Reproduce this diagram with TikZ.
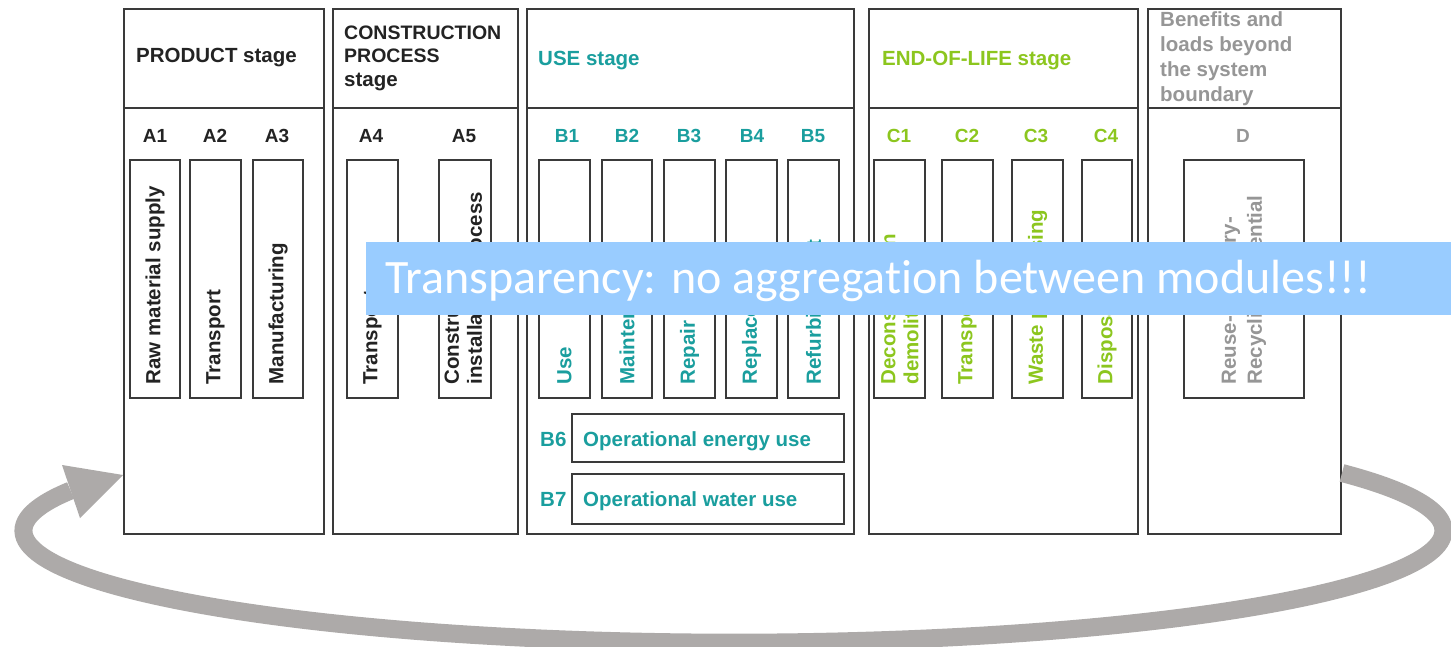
\documentclass[tikz,border=0pt]{standalone}
\usepackage{fontspec}
\setmainfont{Liberation Sans}
\newfontfamily\banfont[Ligatures={NoCommon}]{Carlito}
\definecolor{framec}{RGB}{58,58,58}
\definecolor{txtA}{RGB}{35,35,35}
\definecolor{txtB}{RGB}{26,158,158}
\definecolor{txtC}{RGB}{140,198,30}
\definecolor{txtD}{RGB}{150,150,150}
\definecolor{bannerc}{RGB}{153,204,255}
\definecolor{loopc}{RGB}{173,170,169}
\newcommand\labfont{\bfseries\fontsize{20.5}{23}\selectfont}
\newcommand\codefont{\bfseries\fontsize{19}{21}\selectfont}
\tikzset{
  stagebox/.style={draw=framec, line width=1.8pt, inner sep=0pt, anchor=north west},
  modbox/.style={draw=framec, line width=1.6pt, inner sep=0pt, minimum height=238pt, minimum width=51pt, anchor=north},
  vtext/.style={rotate=90, anchor=west, inner sep=0pt, align=left, font=\labfont},
  hd/.style={anchor=base west, inner sep=0pt, font=\labfont},
  modcode/.style={anchor=base, inner sep=0pt, font=\codefont},
  loopline/.style={draw=loopc, line width=18pt},
}
\begin{document}
\begin{tikzpicture}[x=1pt,y=-1pt]
\useasboundingbox (0,0) rectangle (1451,647);
\fill[white] (0,0) rectangle (1451,647);
% stage frames
\node[stagebox, minimum width=200pt, minimum height=99pt] (prodH) at (123,8) {};
\node[stagebox, minimum width=200pt, minimum height=426pt] (prodB) at (123,107) {};
\node[stagebox, minimum width=185pt, minimum height=99pt] (consH) at (332,8) {};
\node[stagebox, minimum width=185pt, minimum height=426pt] (consB) at (332,107) {};
\node[stagebox, minimum width=327pt, minimum height=99pt] (useH) at (526,8) {};
\node[stagebox, minimum width=327pt, minimum height=426pt] (useB) at (526,107) {};
\node[stagebox, minimum width=269pt, minimum height=99pt] (eolH) at (868,8) {};
\node[stagebox, minimum width=269pt, minimum height=426pt] (eolB) at (868,107) {};
\node[stagebox, minimum width=193pt, minimum height=99pt] (benH) at (1147,8) {};
\node[stagebox, minimum width=193pt, minimum height=426pt] (benB) at (1147,107) {};
% headers
\node[hd, text=txtA] (h1) at (136,63) {PRODUCT stage};
\node[hd, text=txtA, font=\bfseries\fontsize{19.5}{23}\selectfont] (h2a) at (344,40) {CONSTRUCTION};
\node[hd, text=txtA, font=\bfseries\fontsize{19.5}{23}\selectfont] (h2b) at (344,63) {PROCESS};
\node[hd, text=txtA] (h2c) at (344,87) {stage};
\node[hd, text=txtB] (h3) at (538,66) {USE stage};
\node[hd, text=txtC] (h4) at (882,66) {END-OF-LIFE stage};
\node[hd, text=txtD] (h5a) at (1160,27) {Benefits and};
\node[hd, text=txtD] (h5b) at (1160,52) {loads beyond};
\node[hd, text=txtD] (h5c) at (1160,77) {the system};
\node[hd, text=txtD] (h5d) at (1160,102) {boundary};
% module codes
\node[modcode, text=txtA] (cA1) at (155,143) {A1};
\node[modcode, text=txtA] (cA2) at (215,143) {A2};
\node[modcode, text=txtA] (cA3) at (277,143) {A3};
\node[modcode, text=txtA] (cA4) at (371,143) {A4};
\node[modcode, text=txtA] (cA5) at (464,143) {A5};
\node[modcode, text=txtB] (cB1) at (567,143) {B1};
\node[modcode, text=txtB] (cB2) at (627,143) {B2};
\node[modcode, text=txtB] (cB3) at (689,143) {B3};
\node[modcode, text=txtB] (cB4) at (752,143) {B4};
\node[modcode, text=txtB] (cB5) at (813,143) {B5};
\node[modcode, text=txtC] (cC1) at (899,143) {C1};
\node[modcode, text=txtC] (cC2) at (967,143) {C2};
\node[modcode, text=txtC] (cC3) at (1036,143) {C3};
\node[modcode, text=txtC] (cC4) at (1106,143) {C4};
\node[modcode, text=txtD] (cD) at (1243,143) {D};
% module boxes
\node[modbox, minimum width=50pt] (a1) at (155,159) {};
\node[modbox] (a2) at (215.5,159) {};
\node[modbox, minimum width=50pt] (a3) at (278,159) {};
\node[modbox] (a4) at (372.5,159) {};
\node[modbox, minimum width=52pt] (a5) at (465,159) {};
\node[modbox] (b1) at (564.5,159) {};
\node[modbox, minimum width=50pt] (b2) at (627,159) {};
\node[modbox] (b3) at (689.5,159) {};
\node[modbox] (b4) at (751.5,159) {};
\node[modbox] (b5) at (813.5,159) {};
\node[modbox] (c1) at (899.5,159) {};
\node[modbox] (c2) at (967.5,159) {};
\node[modbox] (c3) at (1037.5,159) {};
\node[modbox, minimum width=50pt] (c4) at (1107,159) {};
\node[modbox, minimum width=120pt] (d) at (1244,159) {};
% vertical labels
\node[vtext, text=txtA] (ta1) at ([yshift=14pt]a1.south) {Raw material supply};
\node[vtext, text=txtA] (ta2) at ([yshift=14pt]a2.south) {Transport};
\node[vtext, text=txtA] (ta3) at ([yshift=14pt]a3.south) {Manufacturing};
\node[vtext, text=txtA] (ta4) at ([yshift=14pt]a4.south) {Transport};
\node[vtext, text=txtA] (ta5) at ([yshift=14pt]a5.south) {Construction-\\installation process};
\node[vtext, text=txtB] (tb1) at ([yshift=14pt]b1.south) {Use};
\node[vtext, text=txtB] (tb2) at ([yshift=14pt]b2.south) {Maintenance};
\node[vtext, text=txtB] (tb3) at ([yshift=14pt]b3.south) {Repair};
\node[vtext, text=txtB] (tb4) at ([yshift=14pt]b4.south) {Replacement};
\node[vtext, text=txtB] (tb5) at ([yshift=14pt]b5.south) {Refurbishment};
\node[vtext, text=txtC] (tc1) at ([yshift=14pt]c1.south) {Deconstruction\\demolition};
\node[vtext, text=txtC] (tc2) at ([yshift=14pt]c2.south) {Transport};
\node[vtext, text=txtC] (tc3) at ([yshift=14pt]c3.south) {Waste processing};
\node[vtext, text=txtC] (tc4) at ([yshift=14pt]c4.south) {Disposal};
\node[vtext, text=txtD, font=\bfseries\fontsize{20.5}{26}\selectfont] (td) at ([yshift=14pt]d.south) {Reuse-Recovery-\\Recycling-potential};
% B6 / B7
\node[modbox, anchor=north west, minimum width=272pt, minimum height=48pt] (b6) at (571,413) {};
\node[modbox, anchor=north west, minimum width=272pt, minimum height=50pt] (b7) at (571,473) {};
\node[hd, text=txtB] (cB6) at (540,446) {B6};
\node[hd, text=txtB] (cB7) at (540,506) {B7};
\node[hd, text=txtB] (tb6) at (583,446) {Operational energy use};
\node[hd, text=txtB] (tb7) at (583,506) {Operational water use};
% loop arrow
\coordinate (loopstart) at (1342,473);
\coordinate (tip) at (123,475);
\draw[loopline] (loopstart) arc[start angle=-31, end angle=201, x radius=710, y radius=112];
\fill[loopc] (62,465) -- (tip) -- (80,518) -- cycle;
% banner
\node[fill=bannerc, anchor=north west, inner sep=0pt, minimum width=1085pt, minimum height=73pt] (banner) at (366,242) {};
\node[anchor=base west, inner sep=0pt, text=white, font=\banfont\fontsize{48}{50}\selectfont] (bantext) at (385,293) {Transparency: no aggregation between modules!!!};
\end{tikzpicture}
\end{document}
